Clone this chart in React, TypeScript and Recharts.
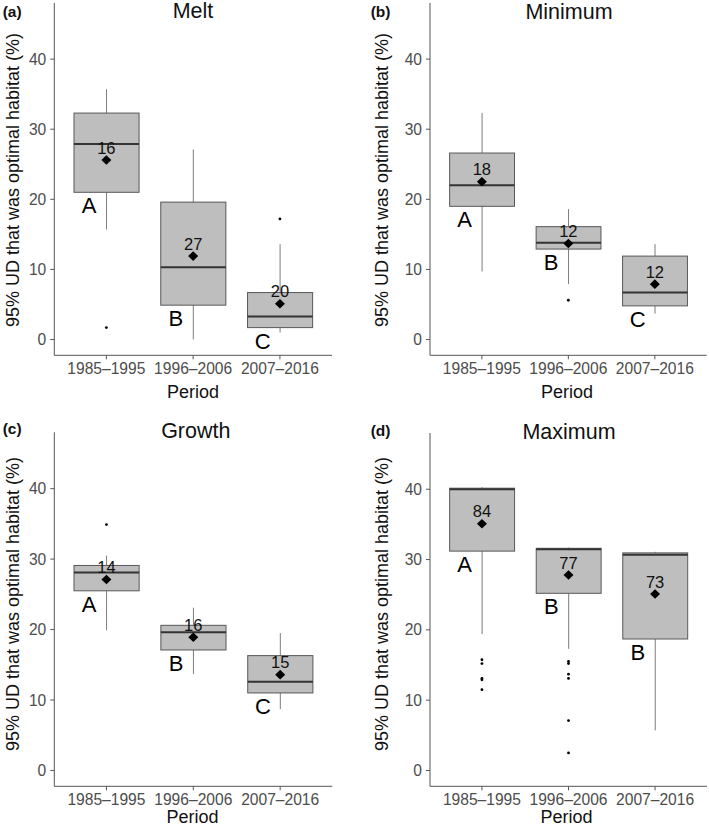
import React from 'react';
import { ComposedChart, Bar, Scatter, XAxis, YAxis } from 'recharts';

const periods = ['1985–1995', '1996–2006', '2007–2016'];
const yTicks = [0, 10, 20, 30, 40];

// (a) Melt
const meltLow = [15.7, 0.0, 1.0];
const meltQ1 = [21.0, 4.9, 1.7];
const meltMedian = [27.9, 10.3, 3.3];
const meltQ3 = [32.3, 19.6, 6.7];
const meltHigh = [35.7, 27.1, 13.6];
const meltMean = [25.6, 11.9, 5.1];
const meltN = [16, 27, 20];
const meltLetters = ['A', 'B', 'C'];
const meltOutliers = [
  { period: '1985–1995', value: 1.7 },
  { period: '2007–2016', value: 17.2 },
];

// (b) Minimum
const minLow = [9.7, 7.9, 3.7];
const minQ1 = [19.0, 12.9, 4.8];
const minMedian = [22.0, 13.8, 6.7];
const minQ3 = [26.6, 16.1, 11.9];
const minHigh = [32.3, 18.6, 13.6];
const minMean = [22.5, 13.7, 7.9];
const minN = [18, 12, 12];
const minLetters = ['A', 'B', 'C'];
const minOutliers = [{ period: '1996–2006', value: 5.6 }];

// (c) Growth
const growLow = [19.9, 13.7, 8.7];
const growQ1 = [25.5, 17.1, 11.0];
const growMedian = [28.1, 19.6, 12.6];
const growQ3 = [29.1, 20.6, 16.3];
const growHigh = [30.5, 23.1, 19.5];
const growMean = [27.1, 18.9, 13.6];
const growN = [14, 16, 15];
const growLetters = ['A', 'B', 'C'];
const growOutliers = [{ period: '1985–1995', value: 34.9 }];

// (d) Maximum
const maxLow = [19.4, 17.3, 5.7];
const maxQ1 = [31.2, 25.2, 18.7];
const maxMedian = [40.0, 31.45, 30.7];
const maxQ3 = [40.15, 31.6, 30.95];
const maxHigh = [40.3, 31.7, 31.1];
const maxMean = [35.1, 27.8, 25.1];
const maxN = [84, 77, 73];
const maxLetters = ['A', 'B', 'B'];
const maxOutliers = [
  { period: '1985–1995', value: 15.75 },
  { period: '1985–1995', value: 15.2 },
  { period: '1985–1995', value: 13.1 },
  { period: '1985–1995', value: 12.9 },
  { period: '1985–1995', value: 11.5 },
  { period: '1996–2006', value: 15.5 },
  { period: '1996–2006', value: 15.2 },
  { period: '1996–2006', value: 13.7 },
  { period: '1996–2006', value: 13.1 },
  { period: '1996–2006', value: 7.1 },
  { period: '1996–2006', value: 2.5 },
];

const FONT = '"Liberation Sans", Arial, sans-serif';

function buildRows(low, q1, med, q3, high, mean, n, letters) {
  return periods.map((p, i) => ({
    period: p,
    whisker: [low[i], high[i]],
    box: [q1[i], q3[i]],
    med: [q1[i], med[i]],
    mean: mean[i],
    n: n[i],
    letter: letters[i],
  }));
}

const WhiskerShape = (props: any) => {
  const { x, y, width, height } = props;
  const cx = x + width / 2;
  return <line x1={cx} x2={cx} y1={y} y2={y + height} stroke="#7d7d7d" strokeWidth={1} />;
};

const BoxShape = (props: any) => {
  const { x, y, width, height, payload } = props;
  const top = Math.min(y, y + height);
  const bottom = Math.max(y, y + height);
  return (
    <g>
      <rect x={x} y={top} width={width} height={bottom - top} fill="#bebebe" stroke="#585858" strokeWidth={1} />
      <text
        x={x + width / 2 - 17.4}
        y={bottom + 21}
        textAnchor="middle"
        fontSize={22}
        fontFamily={FONT}
        fill="#000"
      >
        {payload.letter}
      </text>
    </g>
  );
};

const MedianShape = (props: any) => {
  const { x, y, width, height } = props;
  const top = Math.min(y, y + height);
  return <line x1={x} x2={x + width} y1={top} y2={top} stroke="#333" strokeWidth={2} />;
};

const MeanShape = (props: any) => {
  const { cx, cy, payload } = props;
  const w = 5;
  const h = 4.8;
  return (
    <g>
      <polygon points={`${cx},${cy - h} ${cx + w},${cy} ${cx},${cy + h} ${cx - w},${cy}`} fill="#000" />
      <text x={cx} y={cy - 6.4} textAnchor="middle" fontSize={16.5} fontFamily={FONT} fill="#111">
        {payload.n}
      </text>
    </g>
  );
};

const OutlierShape = (props: any) => {
  const { cx, cy } = props;
  return <circle cx={cx} cy={cy} r={1.4} fill="#000" />;
};

function Panel({ cfg, rows, outliers }) {
  const { left, top, width, height, plotLeft, plotTop, plotRight, plotBottom } = cfg;
  const plotW = plotRight - plotLeft;
  const unit = plotW / 3.2;
  const pad = { left: unit * 0.1, right: unit * 0.1 };
  const bs = unit * 0.75;
  return (
    <div style={{ position: 'absolute', left, top, width, height }}>
      <ComposedChart
        width={width}
        height={height}
        data={rows}
        margin={{ top: plotTop, right: width - plotRight, left: 0, bottom: 0 }}
        style={{ fontFamily: FONT }}
      >
        <XAxis
          xAxisId="main"
          dataKey="period"
          orientation="bottom"
          padding={pad}
          allowDuplicatedCategory={false}
          height={height - plotBottom}
          tick={{ fill: '#4d4d4d', fontSize: 15.6, fontFamily: FONT }}
          tickSize={4}
          tickMargin={4}
          axisLine={{ stroke: '#555' }}
          tickLine={{ stroke: '#555' }}
          interval={0}
        />
        <XAxis xAxisId="w" dataKey="period" orientation="top" height={0} hide padding={pad} allowDuplicatedCategory={false} />
        <XAxis xAxisId="b" dataKey="period" orientation="top" height={0} hide padding={pad} allowDuplicatedCategory={false} />
        <XAxis xAxisId="m" dataKey="period" orientation="top" height={0} hide padding={pad} allowDuplicatedCategory={false} />
        <YAxis
          type="number"
          domain={[-2.25, 48]}
          allowDataOverflow
          ticks={yTicks}
          width={plotLeft}
          tick={{ fill: '#4d4d4d', fontSize: 15.6, fontFamily: FONT }}
          tickSize={4}
          tickMargin={4}
          axisLine={{ stroke: '#555' }}
          tickLine={{ stroke: '#555' }}
        />
        <Bar xAxisId="w" dataKey="whisker" barSize={bs} shape={WhiskerShape} isAnimationActive={false} />
        <Bar xAxisId="b" dataKey="box" barSize={bs} shape={BoxShape} isAnimationActive={false} />
        <Bar xAxisId="m" dataKey="med" barSize={bs} shape={MedianShape} isAnimationActive={false} />
        <Scatter xAxisId="main" data={outliers} dataKey="value" shape={OutlierShape} isAnimationActive={false} />
        <Scatter xAxisId="main" dataKey="mean" shape={MeanShape} isAnimationActive={false} />
      </ComposedChart>
    </div>
  );
}

function Texts({ cfg, tag, title }) {
  const base: React.CSSProperties = {
    position: 'absolute',
    fontFamily: FONT,
    whiteSpace: 'nowrap',
    lineHeight: 1,
  };
  return (
    <>
      <div style={{ ...base, left: cfg.tagX, top: cfg.tagY, transform: 'translateY(-50%)', fontWeight: 'bold', fontSize: 15.5, color: '#111' }}>
        {tag}
      </div>
      <div style={{ ...base, left: cfg.titleX, top: cfg.titleY, transform: 'translate(-50%,-50%)', fontSize: 21.5, color: '#111' }}>
        {title}
      </div>
      <div style={{ ...base, left: cfg.yTitleX, top: cfg.yTitleY, transform: 'translate(-50%,-50%) rotate(-90deg)', fontSize: 18, color: '#111' }}>
        95% UD that was optimal habitat (%)
      </div>
      <div style={{ ...base, left: cfg.xTitleX, top: cfg.xTitleY, transform: 'translate(-50%,-50%)', fontSize: 18, color: '#111' }}>
        Period
      </div>
    </>
  );
}

const cfgA = { left: 0, top: 0, width: 354, height: 413, plotLeft: 54.3, plotTop: 3, plotRight: 332, plotBottom: 355.3,
  tagX: 2.7, tagY: 11.7, titleX: 193, titleY: 12, yTitleX: 13.3, yTitleY: 180, xTitleX: 193, xTitleY: 391.7 };
const cfgB = { left: 354, top: 0, width: 355, height: 413, plotLeft: 76, plotTop: 3, plotRight: 352.7, plotBottom: 355.3,
  tagX: 370.7, tagY: 11.7, titleX: 569, titleY: 12.5, yTitleX: 382.3, yTitleY: 180, xTitleX: 567, xTitleY: 391.7 };
const cfgC = { left: 0, top: 413, width: 354, height: 413, plotLeft: 54.3, plotTop: 19.3, plotRight: 332.3, plotBottom: 373.3,
  tagX: 2.7, tagY: 429, titleX: 195.8, titleY: 432, yTitleX: 13.3, yTitleY: 604, xTitleX: 192.5, xTitleY: 817 };
const cfgD = { left: 354, top: 413, width: 355, height: 413, plotLeft: 76, plotTop: 20, plotRight: 353, plotBottom: 373.3,
  tagX: 370.7, tagY: 431, titleX: 569, titleY: 433.3, yTitleX: 382.3, yTitleY: 604, xTitleX: 566.5, xTitleY: 817 };

export default function App() {
  const rowsA = buildRows(meltLow, meltQ1, meltMedian, meltQ3, meltHigh, meltMean, meltN, meltLetters);
  const rowsB = buildRows(minLow, minQ1, minMedian, minQ3, minHigh, minMean, minN, minLetters);
  const rowsC = buildRows(growLow, growQ1, growMedian, growQ3, growHigh, growMean, growN, growLetters);
  const rowsD = buildRows(maxLow, maxQ1, maxMedian, maxQ3, maxHigh, maxMean, maxN, maxLetters);
  return (
    <div style={{ position: 'absolute', left: 0, top: 0, width: 709, height: 826, background: '#fff', overflow: 'hidden' }}>
      <Panel cfg={cfgA} rows={rowsA} outliers={meltOutliers} />
      <Panel cfg={cfgB} rows={rowsB} outliers={minOutliers} />
      <Panel cfg={cfgC} rows={rowsC} outliers={growOutliers} />
      <Panel cfg={cfgD} rows={rowsD} outliers={maxOutliers} />
      <Texts cfg={cfgA} tag="(a)" title="Melt" />
      <Texts cfg={cfgB} tag="(b)" title="Minimum" />
      <Texts cfg={cfgC} tag="(c)" title="Growth" />
      <Texts cfg={cfgD} tag="(d)" title="Maximum" />
    </div>
  );
}
